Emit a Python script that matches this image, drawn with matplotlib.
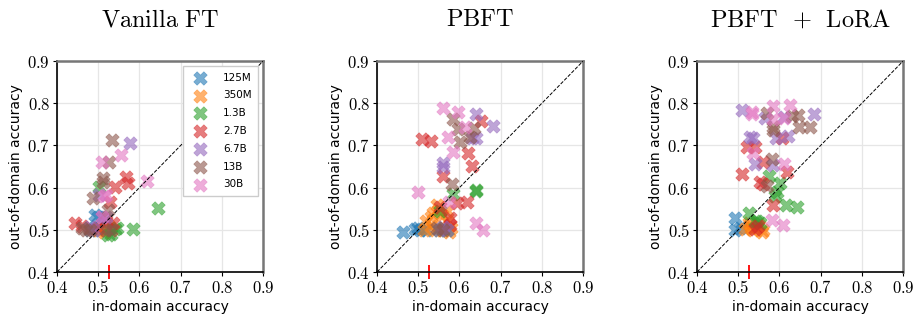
import matplotlib
matplotlib.use("Agg")
import matplotlib.pyplot as plt
from matplotlib.ticker import FuncFormatter

plt.rcParams['mathtext.fontset'] = 'cm'
plt.rcParams['font.family'] = ['DejaVu Sans']

models = ['125M', '350M', '1.3B', '2.7B', '6.7B', '13B', '30B']
colors = ['#1f77b4', '#ff7f0e', '#2ca02c', '#d62728', '#9467bd', '#8c564b', '#e377c2']
titles = [r'$\mathrm{Vanilla\ FT}$', r'$\mathrm{PBFT}$', r'$\mathrm{PBFT}\ \,+\ \,\mathrm{LoRA}$']
ticks = [0.4, 0.5, 0.6, 0.7, 0.8, 0.9]
baseline_x = 0.525
baseline_y = 0.5

# Vanilla FT: in-domain (x) and out-of-domain (y) accuracy per model size
vanilla_x = {
    '125M': [0.492, 0.500, 0.480, 0.490, 0.505, 0.510],
    '350M': [0.500, 0.510, 0.520, 0.525, 0.530, 0.515],
    '1.3B': [0.503, 0.644, 0.585, 0.524, 0.540, 0.530, 0.545],
    '2.7B': [0.567, 0.573, 0.541, 0.529, 0.444, 0.536, 0.460, 0.520, 0.500],
    '6.7B': [0.577, 0.502, 0.508, 0.480, 0.490, 0.520],
    '13B':  [0.534, 0.527, 0.511, 0.511, 0.487, 0.524, 0.460, 0.470, 0.480, 0.530, 0.520],
    '30B':  [0.555, 0.508, 0.618, 0.519, 0.515, 0.510],
}
vanilla_y = {
    '125M': [0.535, 0.530, 0.500, 0.505, 0.500, 0.510],
    '350M': [0.500, 0.505, 0.500, 0.510, 0.500, 0.495],
    '1.3B': [0.602, 0.551, 0.502, 0.488, 0.502, 0.490, 0.505],
    '2.7B': [0.626, 0.612, 0.602, 0.567, 0.515, 0.516, 0.510, 0.520, 0.505],
    '6.7B': [0.705, 0.582, 0.531, 0.507, 0.500, 0.530],
    '13B':  [0.714, 0.660, 0.623, 0.614, 0.575, 0.547, 0.504, 0.500, 0.500, 0.500, 0.500],
    '30B':  [0.677, 0.661, 0.616, 0.582, 0.580, 0.530],
}

# PBFT
pbft_x = {
    '125M': [0.464, 0.492, 0.504, 0.520, 0.500],
    '350M': [0.545, 0.549, 0.537, 0.530, 0.520, 0.557, 0.570, 0.570, 0.580, 0.515,
             0.540, 0.560, 0.575, 0.530],
    '1.3B': [0.553, 0.585, 0.640, 0.569, 0.550, 0.640, 0.560],
    '2.7B': [0.553, 0.577, 0.577, 0.593, 0.618, 0.508, 0.530, 0.622, 0.630, 0.559, 0.652],
    '6.7B': [0.560, 0.569, 0.550, 0.640, 0.681, 0.630, 0.640, 0.561, 0.561],
    '13B':  [0.581, 0.585, 0.597, 0.635, 0.625, 0.601, 0.545, 0.560],
    '30B':  [0.500, 0.575, 0.640, 0.658, 0.559, 0.597, 0.614, 0.572, 0.585],
}
pbft_y = {
    '125M': [0.495, 0.503, 0.500, 0.500, 0.505],
    '350M': [0.559, 0.547, 0.540, 0.530, 0.520, 0.535, 0.545, 0.520, 0.505, 0.500,
             0.500, 0.500, 0.495, 0.510],
    '1.3B': [0.545, 0.585, 0.593, 0.500, 0.500, 0.594, 0.505],
    '2.7B': [0.555, 0.528, 0.511, 0.564, 0.567, 0.715, 0.710, 0.681, 0.652, 0.628, 0.758],
    '6.7B': [0.507, 0.500, 0.500, 0.774, 0.746, 0.717, 0.717, 0.658, 0.650],
    '13B':  [0.609, 0.763, 0.740, 0.742, 0.720, 0.709, 0.505, 0.500],
    '30B':  [0.590, 0.567, 0.517, 0.500, 0.789, 0.780, 0.744, 0.719, 0.685],
}

# PBFT + LoRA
lora_x = {
    '125M': [0.492, 0.492, 0.505],
    '350M': [0.517, 0.529, 0.537, 0.545, 0.557, 0.561, 0.525, 0.550, 0.530],
    '1.3B': [0.525, 0.545, 0.553, 0.575, 0.601, 0.593, 0.590, 0.615, 0.643, 0.540],
    '2.7B': [0.541, 0.585, 0.553, 0.561, 0.508, 0.618, 0.561, 0.521, 0.541, 0.606, 0.548],
    '6.7B': [0.508, 0.565, 0.684, 0.592, 0.622, 0.529, 0.537, 0.541, 0.585, 0.610],
    '13B':  [0.569, 0.646, 0.630, 0.648, 0.673, 0.585, 0.585, 0.581, 0.569],
    '30B':  [0.533, 0.585, 0.626, 0.585, 0.610, 0.537, 0.611, 0.581, 0.609, 0.533],
}
lora_y = {
    '125M': [0.527, 0.500, 0.505],
    '350M': [0.503, 0.511, 0.500, 0.507, 0.495, 0.500, 0.515, 0.512, 0.505],
    '1.3B': [0.540, 0.522, 0.515, 0.627, 0.610, 0.590, 0.580, 0.560, 0.553, 0.520],
    '2.7B': [0.503, 0.559, 0.614, 0.608, 0.632, 0.638, 0.660, 0.697, 0.697, 0.718, 0.510],
    '6.7B': [0.784, 0.764, 0.774, 0.718, 0.723, 0.721, 0.718, 0.655, 0.654, 0.768],
    '13B':  [0.776, 0.772, 0.770, 0.744, 0.744, 0.744, 0.736, 0.669, 0.605],
    '30B':  [0.780, 0.794, 0.796, 0.763, 0.766, 0.681, 0.657, 0.523, 0.511, 0.775],
}

panels = [(vanilla_x, vanilla_y), (pbft_x, pbft_y), (lora_x, lora_y)]
lefts = [0.0624, 0.4125, 0.7626]

fig = plt.figure(figsize=(9.14, 3.2), dpi=100)
fmt = FuncFormatter(lambda v, p: r'$%.1f$' % v)

for i, (px, py) in enumerate(panels):
    ax = fig.add_axes([lefts[i], 0.15, 0.2254, 0.659])
    ax.set_axisbelow(True)
    ax.grid(True, which='major', color='#e6e6e6', linewidth=0.9)
    for m, c in zip(models, colors):
        ax.scatter(px[m], py[m], marker='X', s=95, color=c, alpha=0.6,
                   edgecolors=c, linewidths=0.4, label=m, zorder=3)
    ax.plot([0.4, 0.9], [0.4, 0.9], color='black', linestyle='--',
            linewidth=0.7, zorder=4)
    ax.set_xlim(0.4, 0.9)
    ax.set_ylim(0.4, 0.9)
    ax.set_xticks(ticks)
    ax.set_yticks(ticks)
    ax.xaxis.set_major_formatter(fmt)
    ax.yaxis.set_major_formatter(fmt)
    ax.tick_params(which='major', labelsize=12, length=3, width=0.8, pad=2)
    ax.set_xticks([baseline_x], minor=True)
    ax.set_yticks([baseline_y], minor=True)
    ax.tick_params(which='minor', color='red', direction='inout', length=10, width=1.3)
    ax.set_xlabel('in-domain accuracy', fontsize=10, labelpad=2)
    ax.set_ylabel('out-of-domain accuracy', fontsize=10, labelpad=3)
    for side in ['left', 'bottom']:
        ax.spines[side].set_color('black')
        ax.spines[side].set_linewidth(1.2)
    for side in ['top', 'right']:
        ax.spines[side].set_color('#777777')
        ax.spines[side].set_linewidth(1.8)
    fig.text(lefts[i] + 0.2254 / 2, 0.94, titles[i], ha='center', va='center', fontsize=17.5)
    if i == 0:
        leg = ax.legend(loc='upper right', fontsize=7.5, labelspacing=0.75,
                        handletextpad=1.2, borderpad=0.6, framealpha=1,
                        edgecolor='#cccccc', fancybox=False)

fig.savefig('out.png', dpi=100)
